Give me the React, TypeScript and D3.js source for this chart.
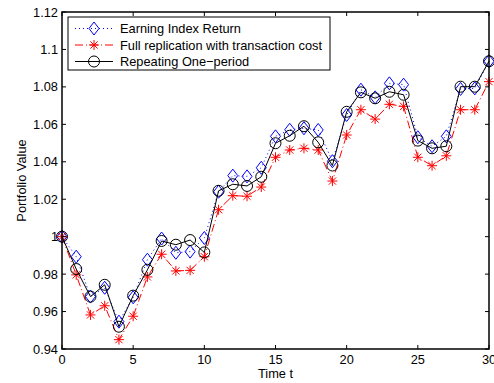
import React, { useRef, useEffect } from 'react';
import * as d3 from 'd3';

const times = d3.range(0, 31);

const earningIndex = [
  1.0, 0.9893, 0.968, 0.9727, 0.9546, 0.9676, 0.9877, 0.999, 0.9914, 0.992, 0.9993,
  1.024, 1.0326, 1.0322, 1.0368, 1.0536, 1.0571, 1.0579, 1.057, 1.0403,
  1.065, 1.0785, 1.0744, 1.0819, 1.0812, 1.0531, 1.0483, 1.0536, 1.0789, 1.0792, 1.0937,
];

const fullReplication = [
  1.0, 0.9796, 0.9582, 0.9631, 0.945, 0.9575, 0.9785, 0.9906, 0.9817, 0.982, 0.9893,
  1.0144, 1.0219, 1.0216, 1.0265, 1.0424, 1.0463, 1.0472, 1.0463, 1.0297,
  1.0543, 1.0678, 1.0628, 1.0707, 1.0696, 1.0424, 1.0379, 1.0432, 1.0678, 1.0678, 1.0828,
];

const repeatingOnePeriod = [
  1.0, 0.9827, 0.968, 0.9743, 0.9519, 0.9685, 0.9823, 0.9977, 0.9957, 0.9982, 0.9916,
  1.0245, 1.028, 1.0271, 1.032, 1.0499, 1.0539, 1.059, 1.0504, 1.038,
  1.0667, 1.0771, 1.0739, 1.0774, 1.0758, 1.0513, 1.0472, 1.0483, 1.0801, 1.0801, 1.0937,
];

const xTicks = [0, 5, 10, 15, 20, 25, 30];
const yTicks = [0.94, 0.96, 0.98, 1, 1.02, 1.04, 1.06, 1.08, 1.1, 1.12];

const legendLabels = [
  'Earning Index Return',
  'Full replication with transaction cost',
  'Repeating One\u2212period',
];

const W = 494;
const H = 383;
const FONT = '"Liberation Sans", Arial, sans-serif';
const FS = 12.8;

export default function App() {
  const ref = useRef<SVGSVGElement | null>(null);

  useEffect(() => {
    if (!ref.current) return;
    const svg = d3.select(ref.current);
    svg.selectAll('*').remove();

    const left = 62, right = 489, top = 12, bottom = 349;
    const x = d3.scaleLinear().domain([0, 30]).range([left, right]);
    const y = d3.scaleLinear().domain([0.94, 1.12]).range([bottom, top]);

    svg.append('rect').attr('width', W).attr('height', H).attr('fill', '#fff');

    const line = d3.line<number>().x((_, i) => x(times[i])).y(d => y(d));

    // markers
    const diamond = (g: any, cx: number, cy: number) =>
      g.append('path')
        .attr('d', `M${cx},${cy - 6.5}L${cx + 5},${cy}L${cx},${cy + 6.5}L${cx - 5},${cy}Z`)
        .attr('fill', 'none').attr('stroke', '#0000ff').attr('stroke-width', 1);
    const star = (g: any, cx: number, cy: number) => {
      const s = 5;
      const d = s * 0.72;
      g.append('path')
        .attr('d', `M${cx - s},${cy}L${cx + s},${cy}M${cx},${cy - s}L${cx},${cy + s}` +
          `M${cx - d},${cy - d}L${cx + d},${cy + d}M${cx - d},${cy + d}L${cx + d},${cy - d}`)
        .attr('stroke', '#ff0000').attr('stroke-width', 1).attr('fill', 'none');
    };
    const circle = (g: any, cx: number, cy: number) =>
      g.append('circle').attr('cx', cx).attr('cy', cy).attr('r', 5.5)
        .attr('fill', 'none').attr('stroke', '#000').attr('stroke-width', 1);

    const plot = svg.append('g');

    plot.append('path').datum(earningIndex).attr('d', line)
      .attr('fill', 'none').attr('stroke', '#0000ff').attr('stroke-width', 1)
      .attr('stroke-dasharray', '1,3');
    earningIndex.forEach((v, i) => diamond(plot, x(times[i]), y(v)));

    plot.append('path').datum(fullReplication).attr('d', line)
      .attr('fill', 'none').attr('stroke', '#ff0000').attr('stroke-width', 1)
      .attr('stroke-dasharray', '8,3,1,3');
    fullReplication.forEach((v, i) => star(plot, x(times[i]), y(v)));

    plot.append('path').datum(repeatingOnePeriod).attr('d', line)
      .attr('fill', 'none').attr('stroke', '#000').attr('stroke-width', 1);
    repeatingOnePeriod.forEach((v, i) => circle(plot, x(times[i]), y(v)));

    // ticks inside on all four sides
    const tk = svg.append('g').attr('stroke', '#000').attr('stroke-width', 1);
    xTicks.forEach(t => {
      tk.append('line').attr('x1', x(t)).attr('x2', x(t)).attr('y1', bottom).attr('y2', bottom - 4);
      tk.append('line').attr('x1', x(t)).attr('x2', x(t)).attr('y1', top).attr('y2', top + 4);
    });
    yTicks.forEach(t => {
      tk.append('line').attr('x1', left).attr('x2', left + 4).attr('y1', y(t)).attr('y2', y(t));
      tk.append('line').attr('x1', right).attr('x2', right - 4).attr('y1', y(t)).attr('y2', y(t));
    });

    svg.append('rect')
      .attr('x', left).attr('y', top).attr('width', right - left).attr('height', bottom - top)
      .attr('fill', 'none').attr('stroke', '#000').attr('stroke-width', 1.5);

    const xl = svg.append('g').attr('font-family', FONT).attr('font-size', FS).attr('fill', '#000');
    xTicks.forEach(t => {
      xl.append('text').attr('x', x(t)).attr('y', bottom + 15).attr('text-anchor', 'middle').text(String(t));
    });
    yTicks.forEach(t => {
      xl.append('text').attr('x', left - 4).attr('y', y(t) + 4.5).attr('text-anchor', 'end').text(String(t));
    });

    xl.append('text').attr('x', (left + right) / 2).attr('y', 378).attr('text-anchor', 'middle')
      .text('Time t');
    xl.append('text')
      .attr('transform', `translate(26,${(top + bottom) / 2}) rotate(-90)`)
      .attr('text-anchor', 'middle').text('Portfolio Value');

    // legend
    const lg = svg.append('g');
    lg.append('rect').attr('x', 68).attr('y', 17).attr('width', 262).attr('height', 53)
      .attr('fill', '#fff').attr('stroke', '#000').attr('stroke-width', 1);
    const rows = [28.5, 45, 61.5];
    const lx1 = 75, lx2 = 113, mx = 94;
    lg.append('line').attr('x1', lx1).attr('x2', lx2).attr('y1', rows[0]).attr('y2', rows[0])
      .attr('stroke', '#0000ff').attr('stroke-dasharray', '1,3');
    diamond(lg, mx, rows[0]);
    lg.append('line').attr('x1', lx1).attr('x2', lx2).attr('y1', rows[1]).attr('y2', rows[1])
      .attr('stroke', '#ff0000').attr('stroke-dasharray', '8,3,1,3');
    star(lg, mx, rows[1]);
    lg.append('line').attr('x1', lx1).attr('x2', lx2).attr('y1', rows[2]).attr('y2', rows[2])
      .attr('stroke', '#000');
    circle(lg, mx, rows[2]);
    legendLabels.forEach((l, i) => {
      lg.append('text').attr('x', 120).attr('y', rows[i] + 4.5)
        .attr('font-family', FONT).attr('font-size', FS).attr('fill', '#000').text(l);
    });
  }, []);

  return <svg ref={ref} width={W} height={H} style={{ position: 'absolute', left: 0, top: 0 }} />;
}
